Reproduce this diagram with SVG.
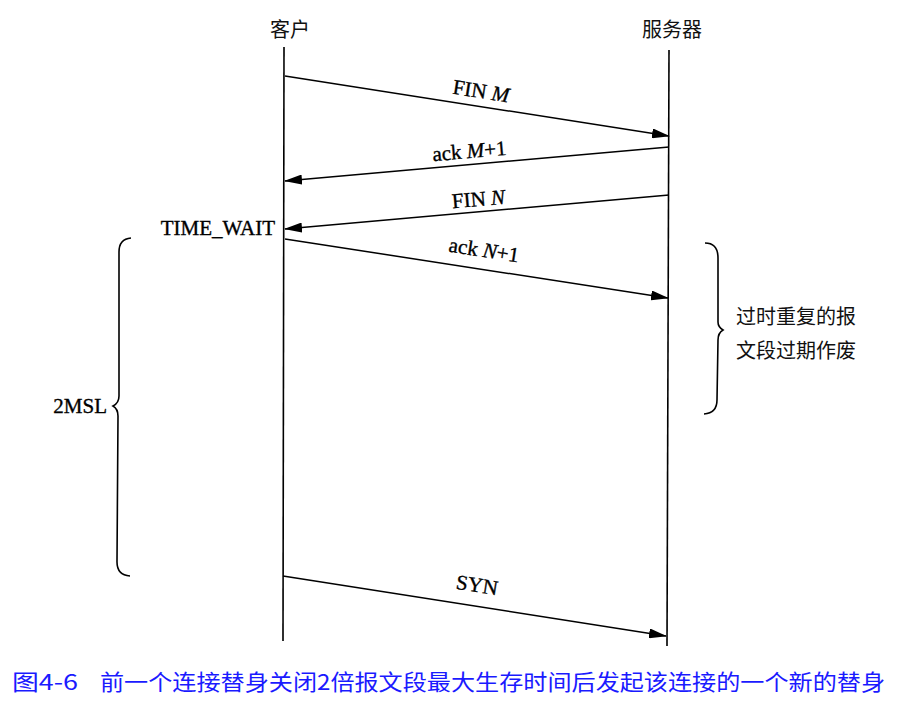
<svg xmlns="http://www.w3.org/2000/svg" width="916" height="705" viewBox="0 0 916 705">
<style>
.cjk{font-family:"Noto Sans CJK SC",sans-serif;font-size:20px;fill:#111}
.lbl{font-family:"Liberation Serif",serif;font-size:21px;fill:#000;stroke:#000;stroke-width:0.35}
.it{font-style:italic}
.ln{stroke:#000;stroke-width:1.6;fill:none}
.conn{stroke:#000;stroke-width:1.5;fill:none;marker-end:url(#ah)}
.cap{font-family:"Noto Sans CJK SC",sans-serif;font-size:22px;fill:#1a1aff}
</style>
<defs>
<marker id="ah" markerWidth="18" markerHeight="10" refX="17" refY="5" orient="auto" markerUnits="userSpaceOnUse">
<path d="M0,0 L18,5 L0,10 z" fill="#000"/>
</marker>
</defs>
<rect width="916" height="705" fill="#fff"/>
<g id="client">
<text class="cjk" x="290" y="37" text-anchor="middle">客户</text>
<line class="ln" x1="284" y1="47" x2="283" y2="641"/>
</g>
<g id="server">
<text class="cjk" x="672" y="37" text-anchor="middle">服务器</text>
<line class="ln" x1="669" y1="50" x2="667" y2="646"/>
</g>
<g id="connectors">
<line class="conn" x1="285" y1="76" x2="669" y2="136"/>
<line class="conn" x1="669" y1="147" x2="285" y2="181"/>
<line class="conn" x1="669" y1="195" x2="285" y2="229"/>
<line class="conn" x1="285" y1="239" x2="668" y2="298"/>
<line class="conn" x1="283" y1="576" x2="666" y2="636"/>
</g>
<g id="labels">
<text class="lbl" transform="translate(480,98) rotate(8.9)" text-anchor="middle">FIN <tspan class="it">M</tspan></text>
<text class="lbl" transform="translate(470,158) rotate(-5)" text-anchor="middle">ack <tspan class="it">M</tspan>+1</text>
<text class="lbl" transform="translate(479,206) rotate(-5)" text-anchor="middle">FIN <tspan class="it">N</tspan></text>
<text class="lbl" transform="translate(483,257) rotate(8.9)" text-anchor="middle">ack <tspan class="it">N</tspan>+1</text>
<text class="lbl" transform="translate(476,592) rotate(8.9)" text-anchor="middle">SYN</text>
<text class="lbl" x="275" y="235" text-anchor="end">TIME_WAIT</text>
</g>
<g id="brace-left">
<path class="ln" d="M131,238 Q119,239 119,252 L119,396 Q119,403 113,406 Q118,409 118,416 L117,562 Q117,575 130,576"/>
<text class="lbl" x="107" y="413" text-anchor="end">2MSL</text>
</g>
<g id="brace-right">
<path class="ln" d="M705,243 Q718,243 718,258 L718,322 Q718,327 723,330 Q718,333 718,340 L717,400 Q717,413 704,414"/>
<text class="cjk" x="736" y="324">过时重复的报</text>
<text class="cjk" x="736" y="358">文段过期作废</text>
</g>
<g id="caption">
<text class="cap" x="12" y="690" textLength="66" lengthAdjust="spacingAndGlyphs">图4-6</text>
<text class="cap" x="100" y="690" textLength="785" lengthAdjust="spacingAndGlyphs">前一个连接替身关闭2倍报文段最大生存时间后发起该连接的一个新的替身</text>
</g>
</svg>
